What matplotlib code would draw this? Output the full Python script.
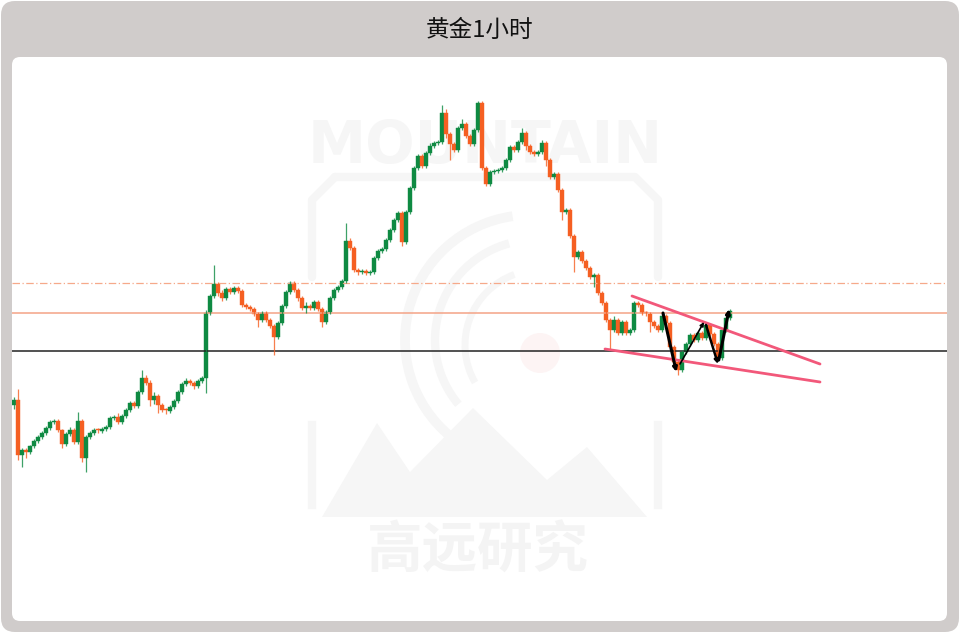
import numpy as np
import matplotlib
matplotlib.use("Agg")
from matplotlib import pyplot as plt
from matplotlib.patches import FancyBboxPatch, Polygon, Arc, Circle

plt.rcParams['font.family'] = ['Noto Sans CJK SC', 'DejaVu Sans']

title = "黄金1小时"

# hourly closes (open of each bar = previous close)
first_open = 2395
closes = [
    2400, 2345, 2350, 2348, 2354, 2359, 2363, 2367, 2372, 2378,
    2379, 2370, 2356, 2366, 2370, 2358, 2379, 2342, 2363, 2367,
    2370, 2369, 2371, 2373, 2382, 2383, 2378, 2384, 2390, 2397,
    2394, 2408, 2422, 2417, 2400, 2404, 2395, 2390, 2389, 2393,
    2399, 2408, 2416, 2419, 2417, 2414, 2419, 2422, 2487, 2504,
    2516, 2507, 2502, 2511, 2508, 2512, 2509, 2495, 2493, 2491,
    2486, 2480, 2487, 2480, 2474, 2463, 2477, 2494, 2508, 2517,
    2510, 2502, 2492, 2494, 2492, 2498, 2491, 2478, 2488, 2502,
    2510, 2513, 2519, 2559, 2552, 2530, 2528, 2529, 2527, 2528,
    2542, 2549, 2551, 2560, 2570, 2580, 2587, 2558, 2588, 2612,
    2632, 2644, 2634, 2647, 2654, 2657, 2658, 2687, 2666, 2656,
    2650, 2672, 2676, 2664, 2656, 2670, 2697, 2632, 2616, 2628,
    2629, 2630, 2632, 2640, 2653, 2650, 2658, 2667, 2654, 2648,
    2646, 2648, 2657, 2640, 2623, 2626, 2610, 2588, 2590, 2564,
    2543, 2548, 2539, 2532, 2523, 2525, 2507, 2497, 2480, 2470,
    2480, 2467, 2478, 2467, 2470, 2497, 2495, 2487, 2486, 2478,
    2474, 2470, 2484, 2477, 2453, 2438, 2430, 2448, 2456, 2465,
    2460, 2467, 2462, 2475, 2466, 2456, 2442, 2470, 2482, 2489,
]
wick_up = [
    3, 11, 2, 2, 1, 2, 2, 2, 2, 2,
    2, 2, 1, 2, 3, 2, 9, 2, 2, 2,
    2, 2, 2, 2, 2, 2, 4, 2, 2, 2,
    2, 2, 8, 3, 3, 4, 2, 2, 2, 2,
    2, 2, 2, 3, 2, 2, 2, 2, 3, 2,
    19, 2, 3, 2, 2, 2, 2, 2, 2, 2,
    2, 2, 2, 2, 2, 2, 2, 2, 2, 2,
    2, 2, 2, 4, 2, 2, 2, 2, 2, 2,
    2, 2, 2, 18, 3, 2, 2, 2, 2, 2,
    2, 2, 2, 2, 2, 2, 2, 2, 2, 2,
    2, 2, 2, 2, 3, 2, 2, 8, 4, 2,
    2, 2, 5, 2, 2, 2, 2, 2, 2, 2,
    2, 2, 2, 2, 2, 2, 2, 5, 2, 2,
    2, 2, 3, 2, 2, 2, 2, 2, 2, 2,
    2, 2, 2, 2, 2, 2, 2, 2, 2, 2,
    4, 2, 2, 2, 2, 2, 2, 2, 2, 2,
    2, 2, 3, 2, 2, 2, 2, 2, 2, 2,
    2, 2, 2, 2, 2, 2, 2, 2, 2, 2,
]
wick_dn = [
    4, 5, 12, 6, 2, 2, 2, 2, 2, 2,
    2, 2, 4, 2, 2, 2, 2, 4, 14, 2,
    2, 2, 2, 2, 2, 2, 2, 2, 2, 2,
    2, 2, 2, 2, 6, 4, 8, 2, 3, 2,
    2, 2, 2, 2, 2, 3, 2, 2, 15, 2,
    2, 3, 3, 2, 2, 2, 2, 2, 2, 2,
    2, 7, 2, 2, 2, 18, 2, 2, 2, 2,
    2, 3, 2, 5, 2, 2, 2, 5, 2, 2,
    2, 2, 2, 2, 2, 2, 3, 2, 2, 2,
    2, 2, 2, 2, 2, 2, 2, 4, 2, 2,
    2, 2, 2, 2, 2, 2, 2, 2, 4, 16,
    2, 2, 2, 2, 2, 2, 2, 2, 2, 2,
    2, 2, 2, 2, 2, 2, 2, 2, 4, 2,
    2, 2, 2, 6, 2, 2, 2, 8, 2, 2,
    15, 2, 2, 2, 2, 10, 2, 2, 2, 20,
    2, 2, 2, 2, 2, 2, 2, 2, 2, 10,
    2, 2, 2, 2, 2, 2, 5, 2, 2, 2,
    2, 2, 2, 2, 2, 2, 2, 2, 2, 2,
]

# horizontal levels
level_dashdot = 2517
level_orange = 2487
level_black = 2449

# wedge trendlines (bar index, price)
wedge_upper = [(154.5, 2504), (201.5, 2436)]
wedge_lower = [(147.75, 2451), (201.5, 2418)]

# W pattern arrows
w_arrows = [((162.25, 2487), (165.6, 2428), 2.2),
            ((166.5, 2436), (172.5, 2478), 1.2),
            ((173.0, 2475), (176.0, 2436), 1.8),
            ((176.2, 2440), (178.8, 2491), 2.2)]

closes = np.array(closes, dtype=float)
opens = np.concatenate([[first_open], closes[:-1]])
highs = np.maximum(opens, closes) + np.array(wick_up)
lows = np.minimum(opens, closes) - np.array(wick_dn)
idx = np.arange(len(closes))

green = '#0e8a42'
orange = '#f55f22'

fig = plt.figure(figsize=(9.6, 6.33), dpi=100, facecolor='white')

# background / frame, pixel coordinates
bg = fig.add_axes([0, 0, 1, 1], zorder=0)
bg.set_xlim(0, 960)
bg.set_ylim(633, 0)
bg.axis('off')
bg.add_patch(FancyBboxPatch((1, 1), 958, 631, boxstyle="round,pad=0,rounding_size=14",
                            facecolor='#d0cccb', edgecolor='none'))
bg.add_patch(FancyBboxPatch((12, 57), 935, 564, boxstyle="round,pad=0,rounding_size=8",
                            facecolor='white', edgecolor='none'))
bg.text(480, 30, title, ha='center', va='center', fontsize=17, color='#111111',
        fontweight='medium')

# watermark
wm = '#f6f6f6'
bg.text(485, 147, "MOUNTAIN", ha='center', va='center', fontsize=42, fontweight='bold',
        color=wm, family='DejaVu Sans')
bg.plot([312, 312, 335], [277, 200, 177], color=wm, lw=6, solid_capstyle='round')
bg.plot([335, 635, 658, 658], [177, 177, 200, 277], color=wm, lw=6, solid_capstyle='round')
bg.plot([312, 312], [425, 505], color=wm, lw=6)
bg.plot([658, 658], [425, 505], color=wm, lw=6)
bg.add_patch(Polygon([(322, 517), (377, 423), (410, 472), (473, 408), (547, 480),
                      (587, 447), (647, 517)], closed=True, facecolor=wm, edgecolor='none'))
bg.add_patch(Arc((530, 340), 250, 250, theta1=125, theta2=262, color=wm, lw=7))
bg.add_patch(Arc((535, 340), 200, 200, theta1=140, theta2=255, color=wm, lw=6))
bg.add_patch(Arc((540, 345), 150, 150, theta1=150, theta2=250, color=wm, lw=5))
bg.add_patch(Circle((540, 353), 20, facecolor='#fdf4f4', edgecolor='none'))
bg.text(478, 552, "高远研究", ha='center', va='center', fontsize=40, color='#f4f4f4',
        family=['Noto Sans CJK SC', 'DejaVu Sans'], fontweight='bold')

# price chart inside the white panel
ax = fig.add_axes([12 / 960, 12 / 633, 935 / 960, 564 / 633], zorder=1)
ax.patch.set_alpha(0)
ax.set_xlim(-0.5, 233.25)
ax.set_ylim(2179, 2743)
ax.axis('off')

ax.axhline(level_dashdot, color='#f6a98a', lw=0.9, ls=(0, (6, 2, 1, 2)))
ax.axhline(level_orange, color='#f4a386', lw=1.1)
ax.axhline(level_black, color='#222222', lw=1.1)

cols = [green if c >= o else orange for o, c in zip(opens, closes)]
ax.vlines(idx, lows, highs, colors=cols, lw=0.9, alpha=0.8)
body = np.where(np.abs(closes - opens) < 1.5, 1.5, closes - opens)
ax.bar(idx, body, bottom=opens, width=0.85, color=cols, edgecolor=cols, linewidth=0.3)

pink = '#f2587a'
for line in (wedge_upper, wedge_lower):
    xs, ys = zip(*line)
    ax.plot(xs, ys, color=pink, lw=2.0, solid_capstyle='round')

for start, end, lw in w_arrows:
    ax.annotate('', xy=end, xytext=start,
                arrowprops=dict(arrowstyle='-|>,head_length=0.22,head_width=0.11',
                                color='black', lw=lw, shrinkA=0, shrinkB=0))

fig.savefig('out.png', dpi=100, facecolor='white')
